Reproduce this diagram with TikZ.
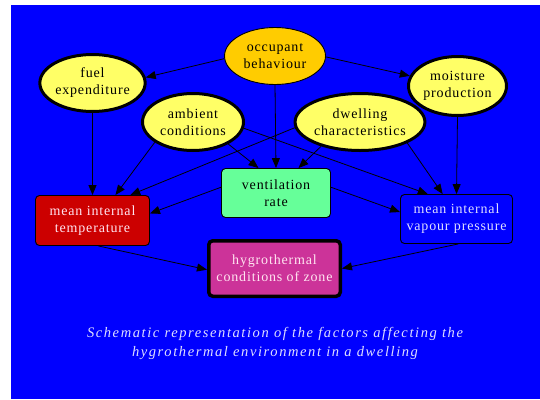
\documentclass[tikz,border=0pt]{standalone}
\usepackage{fontspec}
\setmainfont{Liberation Serif}
\newfontfamily\nodefont[LetterSpace=6]{Liberation Serif}
\newfontfamily\capfont[LetterSpace=11]{Liberation Serif}
\usetikzlibrary{shapes.geometric,arrows.meta}
\definecolor{bgblue}{RGB}{0,0,255}
\definecolor{ellyellow}{RGB}{255,255,102}
\definecolor{occorange}{RGB}{255,204,0}
\definecolor{ventgreen}{RGB}{102,255,153}
\definecolor{tempred}{RGB}{204,0,0}
\definecolor{hygmag}{RGB}{204,51,153}
\definecolor{pinktext}{RGB}{255,228,240}
\definecolor{lavtext}{RGB}{222,222,255}
\begin{document}
\begin{tikzpicture}[x=1pt,y=-1pt,
  nodetext/.style={font=\nodefont\fontsize{14}{17}\selectfont, align=center, inner sep=0pt},
  ell/.style={nodetext, ellipse, draw=black, fill=ellyellow, line width=3pt, text=black},
  box/.style={nodetext, rectangle, rounded corners=4pt, draw=black, line width=0.9pt},
  edge/.style={draw=black, line width=0.8pt, -{Triangle[length=10pt,width=8pt]}}]
\useasboundingbox (0,0) rectangle (540,399);
\fill[white] (0,0) rectangle (540,399);
\fill[bgblue] (11,5) rectangle (540,399);

\node[ell, fill=occorange, line width=0.9pt, minimum width=101pt, minimum height=57pt] (occ) at (275,56) {occupant\\behaviour};
\node[ell, minimum width=98pt, minimum height=57pt] (fuel) at (92.5,83) {fuel\\expenditure};
\node[ell, minimum width=98pt, minimum height=59pt] (moist) at (457.5,86) {moisture\\production};
\node[ell, minimum width=101pt, minimum height=57pt] (amb) at (193,122) {ambient\\conditions};
\node[ell, minimum width=102pt, minimum height=57pt] (dwell) at (360,122) {dwelling\\characteristics};

\node[box, fill=ventgreen, text=black, minimum width=109pt, minimum height=49pt] (vent) at (276,193) {ventilation\\rate};
\node[box, fill=tempred, text=pinktext, minimum width=114pt, minimum height=50pt] (temp) at (92.5,220.5) {mean internal\\temperature};
\node[box, fill=bgblue, text=lavtext, minimum width=112pt, minimum height=49pt] (vap) at (456.5,219) {mean internal\\vapour pressure};
\node[box, fill=hygmag, text=pinktext, line width=3.5pt, minimum width=131.5pt, minimum height=55.5pt] (hyg) at (274.5,268.5) {hygrothermal\\conditions of zone};

\node[font=\capfont\itshape\fontsize{14.5}{19.5}\selectfont, text=lavtext, align=center, inner sep=0pt] (cap) at (275,343.5) {Schematic representation of the factors affecting the\\hygrothermal environment in a dwelling};

\draw[edge] (occ.183) -- (fuel.6);
\draw[edge] (occ.359) -- (moist.168);
\draw[edge] (occ.south) -- (vent.north);
\draw[edge] (fuel.south) -- (temp.north);
\draw[edge] (moist.south) -- (vap.north);
\draw[edge] (amb.208) -- (temp.48);
\draw[edge] (amb.328) -- (vent.125);
\draw[edge] (amb.353) -- (vap.139);
\draw[edge] (dwell.185) -- (temp.34);
\draw[edge] (dwell.212) -- (vent.48);
\draw[edge] (dwell.336) -- (vap.119);
\draw[edge] (vent.174) -- (temp.7);
\draw[edge] (vent.6) -- (vap.173);
\draw[edge] (temp.283) -- (hyg.181);
\draw[edge] (vap.274) -- (hyg.0);
\end{tikzpicture}
\end{document}
